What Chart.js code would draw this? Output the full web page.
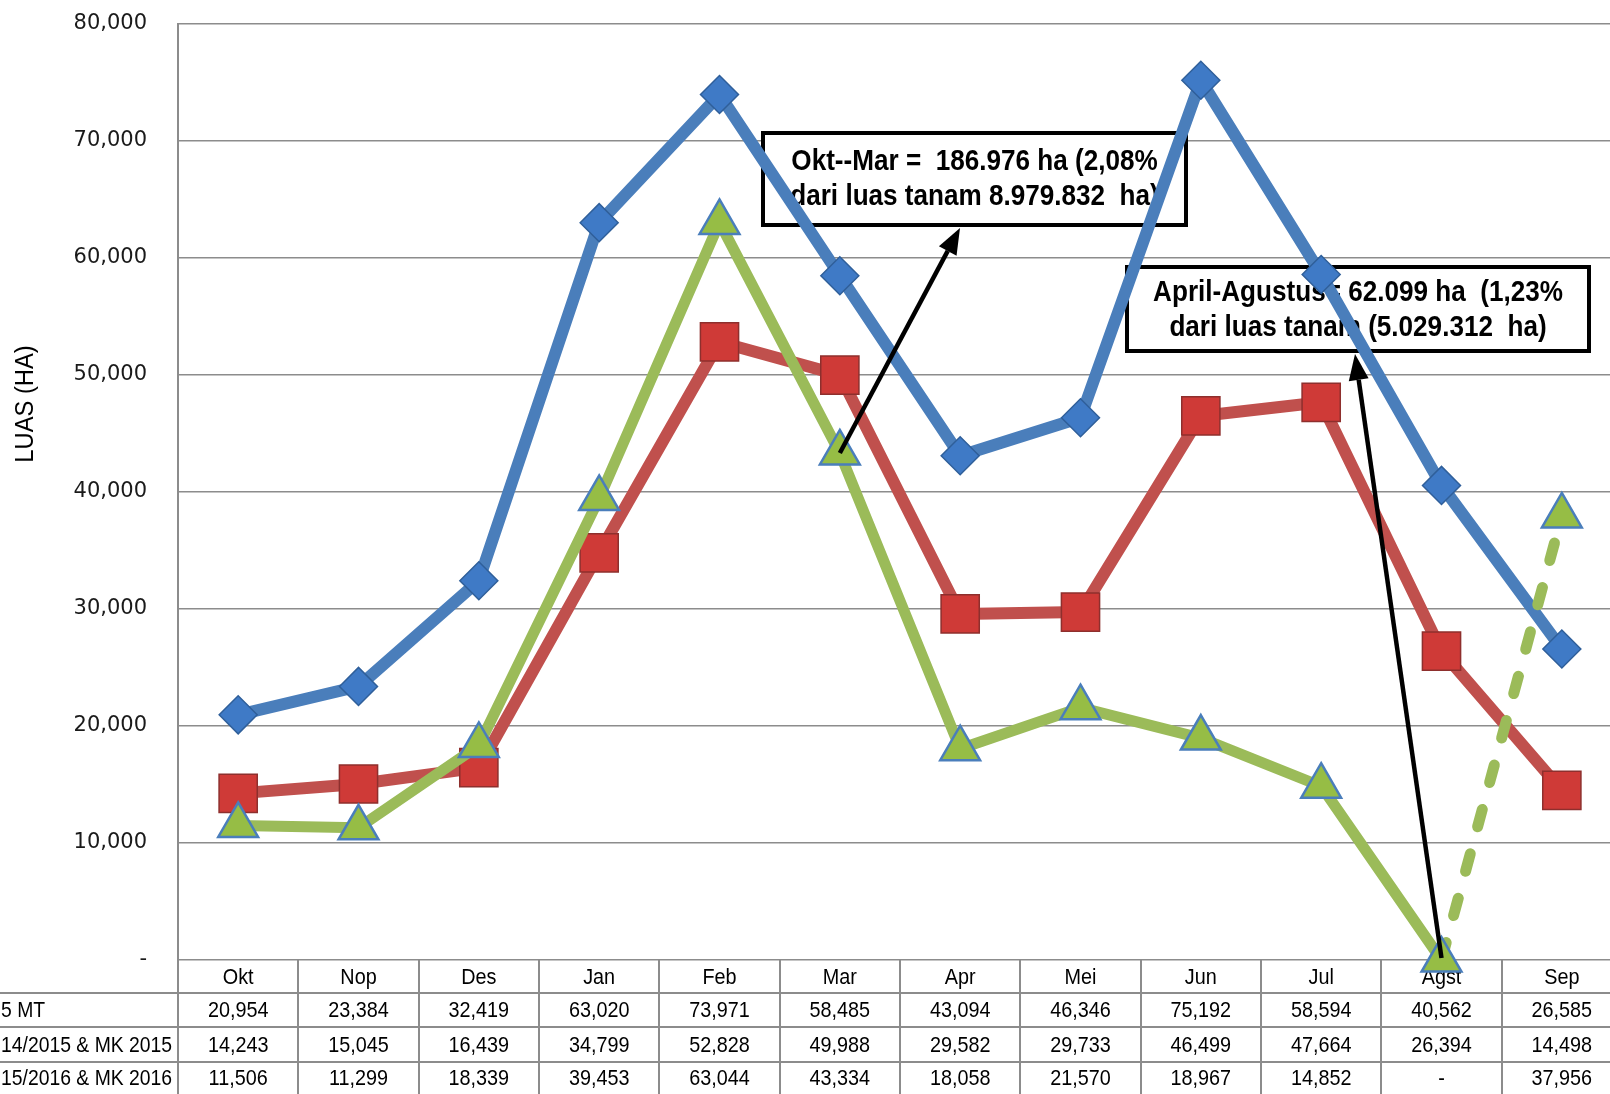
<!DOCTYPE html>
<html>
<head>
<meta charset="utf-8">
<script src="https://cdn.jsdelivr.net/npm/chart.js@4.4.1/dist/chart.umd.min.js"></script>
<style>
  html, body { margin: 0; background: #fff; overflow: hidden; }
  canvas { display: block; }
</style>
</head>
<body>
<!-- a bit wider than the window: the last column runs past the right edge, as in the original -->
<canvas id="chart" width="1622" height="1094"></canvas>
<script>
// data
const months = ['Okt', 'Nop', 'Des', 'Jan', 'Feb', 'Mar', 'Apr', 'Mei', 'Jun', 'Jul', 'Agst', 'Sep'];
const rowLabels = ['5 MT', '14/2015 & MK 2015', '15/2016 & MK 2016'];
const avg5MT = [20954, 23384, 32419, 63020, 73971, 58485, 43094, 46346, 75192, 58594, 40562, 26585];
const mt2015 = [14243, 15045, 16439, 34799, 52828, 49988, 29582, 29733, 46499, 47664, 26394, 14498];
const mt2016 = [11506, 11299, 18339, 39453, 63044, 43334, 18058, 21570, 18967, 14852, 0, 37956];
const yMax = 80000;
const yStep = 10000;
const note1 = ['Okt--Mar =  186.976 ha (2,08%', 'dari luas tanam 8.979.832  ha)'];
const note2 = ['April-Agustus= 62.099 ha  (1,23%', 'dari luas tanam (5.029.312  ha)'];

const fmt = v => v === 0 ? '-' : v.toLocaleString('en-US');

const chart = document.querySelector('#chart').getContext('2d');

// no narrow font installed, so squeeze Liberation Sans
function narrowText(ctx, text, x, y, font, align, sx) {
    ctx.save();
    ctx.font = font;
    ctx.textAlign = align || 'center';
    ctx.textBaseline = 'middle';
    ctx.translate(x, y);
    ctx.scale(sx || 0.9, 1);
    ctx.fillText(text, 0, 0);
    ctx.restore();
}

function drawBox(ctx, x, y, w, h, lines, ys) {
    ctx.fillStyle = '#fff';
    ctx.fillRect(x, y, w, h);
    ctx.strokeStyle = '#000';
    ctx.lineWidth = 4;
    ctx.strokeRect(x, y, w, h);
    ctx.fillStyle = '#000';
    lines.forEach((t, i) => narrowText(ctx, t, x + w / 2, ys[i], 'bold 30px "Liberation Sans"', 'center', 0.87));
}

function arrow(ctx, x1, y1, x2, y2) {
    const ang = Math.atan2(y2 - y1, x2 - x1);
    const len = 26, half = 10;
    const bx = x2 - len * Math.cos(ang), by = y2 - len * Math.sin(ang);
    ctx.save();
    ctx.strokeStyle = '#000';
    ctx.fillStyle = '#000';
    ctx.lineWidth = 4.5;
    ctx.beginPath();
    ctx.moveTo(x1, y1);
    ctx.lineTo(bx, by);
    ctx.stroke();
    ctx.beginPath();
    ctx.moveTo(x2, y2);
    ctx.lineTo(bx + half * Math.sin(ang), by - half * Math.cos(ang));
    ctx.lineTo(bx - half * Math.sin(ang), by + half * Math.cos(ang));
    ctx.closePath();
    ctx.fill();
    ctx.restore();
}

// table under the plot, axis title, note boxes (boxes sit under the lines)
const tablePlugin = {
    id: 'table',
    beforeDatasetsDraw(c) {
        const ctx = c.ctx, a = c.chartArea, x = c.scales.x;
        const colW = (a.right - a.left) / months.length;
        const rows = [a.bottom, a.bottom + 33, a.bottom + 67, a.bottom + 102, c.height];
        ctx.save();
        ctx.strokeStyle = '#8c8c8c';
        ctx.lineWidth = 2;
        ctx.beginPath();
        for (let i = 1; i < 4; i++) {
            ctx.moveTo(0, rows[i]);
            ctx.lineTo(a.right, rows[i]);
        }
        for (let k = 1; k < months.length; k++) {
            const px = Math.round(a.left + k * colW);
            ctx.moveTo(px, a.bottom);
            ctx.lineTo(px, c.height);
        }
        ctx.moveTo(a.left, a.bottom);
        ctx.lineTo(a.left, c.height);
        ctx.stroke();

        ctx.fillStyle = '#000';
        const f = '22px "Liberation Sans"';
        months.forEach((m, i) => narrowText(ctx, m, x.getPixelForValue(i), (rows[0] + rows[1]) / 2 + 1, f));
        [avg5MT, mt2015, mt2016].forEach((vals, r) => {
            const cy = (rows[r + 1] + rows[r + 2]) / 2 + 1;
            narrowText(ctx, rowLabels[r], 1, cy, f, 'left', 0.88);
            vals.forEach((v, i) => narrowText(ctx, fmt(v), x.getPixelForValue(i), cy, f));
        });

        // y axis title
        ctx.save();
        ctx.translate(26, 404);
        ctx.rotate(-Math.PI / 2);
        narrowText(ctx, 'LUAS (HA)', 0, 0, '25px "Liberation Sans"', 'center', 0.95);
        ctx.restore();

        drawBox(ctx, 763, 133, 423, 92, note1, [162, 197]);
        drawBox(ctx, 1127, 267, 462, 84, note2, [293, 328]);
        ctx.restore();
    },
    afterDatasetsDraw(c) {
        const ctx = c.ctx;
        const g = c.getDatasetMeta(2).data;
        arrow(ctx, g[5].x, g[5].y, 960, 228);
        arrow(ctx, g[10].x, g[10].y - 2, 1355, 354);
    }
};

new Chart(chart, {
    type: 'line',
    data: {
        labels: months,
        datasets: [
            {
                label: '5 MT',
                data: avg5MT,
                borderColor: '#4a7ebb',
                borderWidth: 12,
                pointStyle: 'rectRot',
                pointRadius: 19,
                pointBackgroundColor: '#3f7ac6',
                pointBorderColor: '#2f5f9a',
                pointBorderWidth: 1.5,
                order: 3
            },
            {
                label: 'MT 2014/2015 & MK 2015',
                data: mt2015,
                borderColor: '#c0504d',
                borderWidth: 12,
                pointStyle: 'rect',
                pointRadius: 27,
                pointBackgroundColor: '#cf3a37',
                pointBorderColor: '#8e2f2d',
                pointBorderWidth: 1.5,
                order: 2
            },
            {
                label: 'MT 2015/2016 & MK 2016',
                data: mt2016,
                borderColor: '#9bbb59',
                borderWidth: 11,
                borderCapStyle: 'round',
                pointStyle: 'triangle',
                pointRadius: 23,
                pointBackgroundColor: '#96bd45',
                pointBorderColor: '#4a7ebb',
                pointBorderWidth: 2.5,
                segment: {
                    borderDash: s => s.p0DataIndex === 10 ? [18, 28] : undefined
                },
                order: 1
            }
        ]
    },
    options: {
        responsive: false,
        animation: false,
        clip: false,
        elements: { line: { tension: 0, borderJoinStyle: 'round' } },
        layout: { autoPadding: false, padding: { top: 24, right: 0, left: 0, bottom: 0 } },
        plugins: {
            legend: { display: false },
            tooltip: { enabled: false }
        },
        scales: {
            x: {
                offset: true,
                grid: { display: false },
                border: { display: false },
                ticks: { display: false },
                afterFit(s) { s.height = 134; }
            },
            y: {
                min: 0,
                max: yMax,
                ticks: {
                    stepSize: yStep,
                    callback: v => fmt(v),
                    color: '#1a1a1a',
                    font: { family: 'DejaVu Sans', size: 21 },
                    padding: 31
                },
                grid: { color: '#8c8c8c', lineWidth: 1.5, drawTicks: false },
                border: { color: '#8c8c8c', width: 2 },
                afterFit(s) {
                    s.width = 178;
                    s.paddingTop = 0;
                    s.paddingBottom = 0;
                }
            }
        }
    },
    plugins: [tablePlugin]
});
</script>
</body>
</html>
